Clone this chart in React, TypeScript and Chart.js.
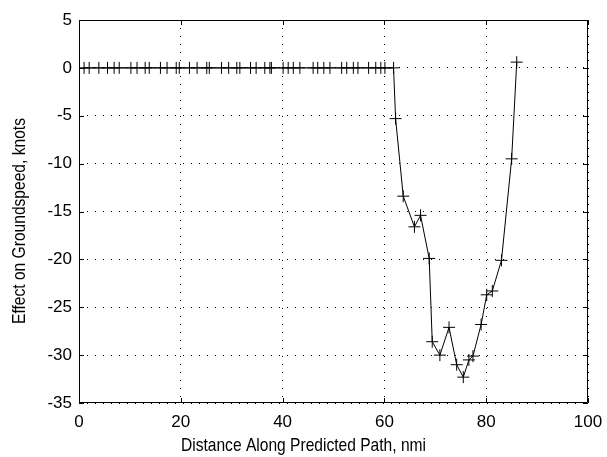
import React, { useEffect, useRef } from "react";
import { Chart, registerables } from "chart.js";

Chart.register(...registerables);

const distances: number[] = [
  1.0, 2.0, 3.9, 5.6, 6.9, 7.9, 10.2, 11.4, 13.0, 13.8, 16.0, 17.3, 19.1, 19.7,
  21.7, 23.2, 25.1, 25.6, 28.0, 29.4, 31.0, 31.6, 33.7, 34.8, 36.5, 37.5, 37.8,
  40.1, 41.1, 42.1, 43.4, 46.0, 46.9, 48.1, 49.3, 51.6, 52.6, 53.9, 54.8, 56.9,
  58.3, 59.3, 60.1, 61.8,
  62.2, 63.7, 65.9, 67.1, 68.8, 69.4, 70.9, 72.7, 74.2, 75.5, 76.6, 77.4, 79.0,
  80.1, 81.2, 83.0, 85.0, 86.0,
];
const effects: number[] = [
  0, 0, 0, 0, 0, 0, 0, 0, 0, 0, 0, 0, 0, 0, 0, 0, 0, 0, 0, 0, 0, 0, 0, 0, 0, 0,
  0, 0, 0, 0, 0, 0, 0, 0, 0, 0, 0, 0, 0, 0, 0, 0, 0, 0,
  -5.3, -13.4, -16.6, -15.4, -19.9, -28.6, -30.0, -27.1, -31.0, -32.3, -30.5,
  -30.1, -26.8, -23.7, -23.3, -20.1, -9.5, 0.6,
];
const xTicks: number[] = [0, 20, 40, 60, 80, 100];
const yTicks: number[] = [5, 0, -5, -10, -15, -20, -25, -30, -35];
const xTitle = "Distance Along Predicted Path, nmi";
const yTitle = "Effect on Groundspeed, knots";

const FONT = "'Liberation Sans', Arial, Helvetica, sans-serif";

const boxPlugin = {
  id: "matlabBox",
  afterDatasetsDraw(chart: any) {
    const { ctx, chartArea } = chart;
    const { left, right, top, bottom } = chartArea;
    const xs = chart.scales.x;
    const ys = chart.scales.y;
    ctx.save();
    ctx.strokeStyle = "#000";
    ctx.lineWidth = 1;
    ctx.beginPath();
    ctx.rect(left + 0.5, top + 0.5, right - left - 1, bottom - top - 1);
    ctx.stroke();
    const L = 5;
    ctx.beginPath();
    xTicks.forEach((v) => {
      const px = Math.round(xs.getPixelForValue(v)) + 0.5;
      ctx.moveTo(px, bottom);
      ctx.lineTo(px, bottom - L);
      ctx.moveTo(px, top);
      ctx.lineTo(px, top + L);
    });
    yTicks.forEach((v) => {
      const py = Math.round(ys.getPixelForValue(v)) + 0.5;
      ctx.moveTo(left, py);
      ctx.lineTo(left + L, py);
      ctx.moveTo(right, py);
      ctx.lineTo(right - L, py);
    });
    ctx.stroke();

    // axis titles (narrow, tall lettering as in the reference)
    ctx.fillStyle = "#000";
    ctx.font = "19px " + FONT;
    ctx.textAlign = "center";
    ctx.textBaseline = "alphabetic";
    ctx.save();
    ctx.translate(chart.width / 2, 451);
    ctx.scale(0.82, 1);
    ctx.fillText(xTitle, 0, 0);
    ctx.restore();
    ctx.save();
    ctx.translate(25, 221);
    ctx.rotate(-Math.PI / 2);
    ctx.scale(0.82, 1);
    ctx.fillText(yTitle, 0, 0);
    ctx.restore();
    ctx.restore();
  },
};

export default function App() {
  const ref = useRef<HTMLCanvasElement | null>(null);
  useEffect(() => {
    document.body.style.margin = "0";
    document.body.style.background = "#fff";
    const canvas = ref.current;
    if (!canvas) return;
    const chart = new Chart(canvas, {
      type: "line",
      data: {
        datasets: [
          {
            data: distances.map((d, i) => ({ x: d, y: effects[i] })),
            borderColor: "#000",
            borderWidth: 1,
            pointStyle: "cross",
            pointRadius: 6,
            pointBorderWidth: 1,
            pointBorderColor: "#000",
            pointBackgroundColor: "#000",
            tension: 0,
            fill: false,
          },
        ],
      },
      options: {
        animation: false,
        responsive: false,
        events: [],
        layout: { padding: { left: 0, right: 19, top: 20, bottom: 0 } },
        plugins: {
          legend: { display: false },
          tooltip: { enabled: false },
        },
        scales: {
          x: {
            type: "linear",
            min: 0,
            max: 100,
            afterBuildTicks: (s: any) => {
              s.ticks = xTicks.map((v) => ({ value: v }));
            },
            afterFit: (s: any) => {
              s.height = 54;
              s.paddingLeft = 0;
              s.paddingRight = 0;
            },
            ticks: {
              color: "#000",
              font: { family: FONT, size: 17, lineHeight: 1 },
              padding: 11,
              maxRotation: 0,
              autoSkip: false,
            },
            grid: {
              color: "#000",
              lineWidth: 1,
              drawTicks: false,
              tickLength: 0,
            },
            border: { display: false, dash: [1, 7] },
          } as any,
          y: {
            type: "linear",
            min: -35,
            max: 5,
            afterBuildTicks: (s: any) => {
              s.ticks = yTicks.map((v) => ({ value: v }));
            },
            afterFit: (s: any) => {
              s.width = 79;
              s.paddingTop = 0;
              s.paddingBottom = 0;
            },
            ticks: {
              color: "#000",
              font: { family: FONT, size: 17, lineHeight: 1 },
              padding: 7,
              autoSkip: false,
            },
            grid: {
              color: "#000",
              lineWidth: 1,
              drawTicks: false,
              tickLength: 0,
            },
            border: { display: false, dash: [1, 7] },
          } as any,
        },
      },
      plugins: [boxPlugin],
    });
    return () => chart.destroy();
  }, []);
  return (
    <canvas
      ref={ref}
      width={607}
      height={457}
      style={{ display: "block", width: 607, height: 457 }}
    />
  );
}
